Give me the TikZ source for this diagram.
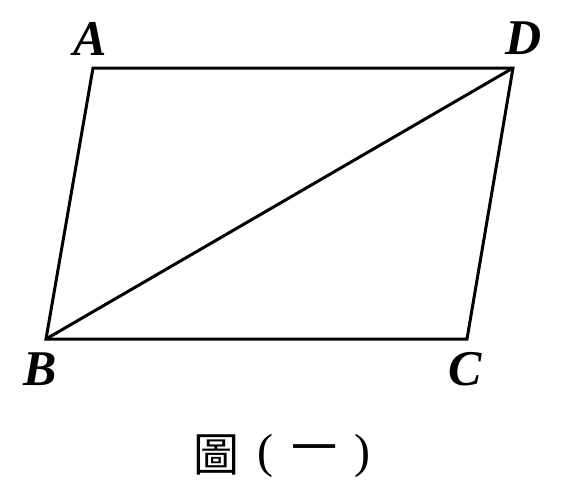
\documentclass[tikz,border=0pt]{standalone}
\usepackage{fontspec}
\setmainfont{Liberation Serif}
\newfontfamily\cjk{Noto Sans CJK TC}
\begin{document}
\begin{tikzpicture}[x=1pt,y=-1pt,
  edge/.style={line width=3pt,line join=miter},
  vlabel/.style={font=\fontsize{50}{55}\selectfont\bfseries\itshape,inner sep=0pt},
  captext/.style={font=\fontsize{48}{52}\selectfont,inner sep=0pt},
  cjktext/.style={font=\cjk\fontsize{46}{50}\selectfont,inner sep=0pt}]
\useasboundingbox (0,0) rectangle (562,501);
\coordinate (A) at (93,68);
\coordinate (D) at (513,68);
\coordinate (B) at (46,339);
\coordinate (C) at (467,339);
\draw[edge] (A) -- (D) -- (C) -- (B) -- cycle;
\draw[edge] (B) -- (D);
\node[vlabel] (lA) at (90,39) {A};
\node[vlabel] (lD) at (524,38.5) {D};
\node[vlabel] (lB) at (40,369.5) {B};
\node[vlabel] (lC) at (465,369) {C};
\node[cjktext] (c1) at (216,455) {圖};
\node[captext] (c2) at (265,456) {(};
\node[cjktext] (c3) at (314,455) {一};
\node[captext] (c4) at (362,456) {)};
\end{tikzpicture}
\end{document}
